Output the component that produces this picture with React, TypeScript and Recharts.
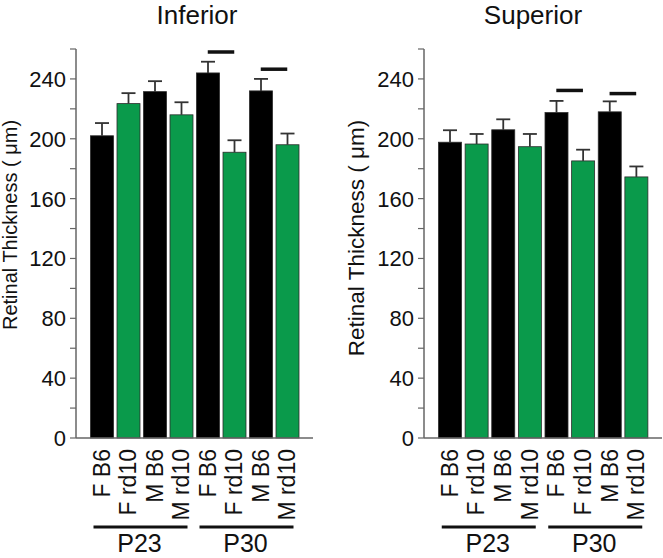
import { Bar, BarChart, ReferenceLine, XAxis, YAxis } from "recharts";

const CATEGORIES = ["F B6", "F rd10", "M B6", "M rd10", "F B6", "F rd10", "M B6", "M rd10"];
const GROUPS = ["P23", "P23", "P23", "P23", "P30", "P30", "P30", "P30"];

const INFERIOR_MEAN = [202, 223.5, 231.5, 216, 244, 191, 232, 196];
const INFERIOR_ERR = [8.5, 7, 7, 8.4, 7.5, 8, 8, 7.5];
const SUPERIOR_MEAN = [197.7, 196.5, 206, 194.7, 217.5, 185.2, 218, 174.5];
const SUPERIOR_ERR = [8, 6.7, 7, 8.5, 7.8, 7.5, 7, 7];

// significance bars: pair of bar indices and the height they sit at
const INFERIOR_SIG = [
  { from: 4, to: 5, y: 258 },
  { from: 6, to: 7, y: 246.5 },
];
const SUPERIOR_SIG = [
  { from: 4, to: 5, y: 232.3 },
  { from: 6, to: 7, y: 230.2 },
];

const Y_TICKS = [0, 20, 40, 60, 80, 100, 120, 140, 160, 180, 200, 220, 240, 260];
const Y_LABEL = "Retinal Thickness ( \u03bcm)";

const FONT = '"Liberation Sans", Arial, Helvetica, sans-serif';
const BLACK = "#000000";
const GREEN = "#0a9a4b";
const AXIS = "#666666";

type Row = { key: string; label: string; group: string; mean: number; err: number };

function buildRows(means: number[], errs: number[]): Row[] {
  return CATEGORIES.map((label, i) => ({
    key: `${GROUPS[i]} ${label}`,
    label,
    group: GROUPS[i],
    mean: means[i],
    err: errs[i],
  }));
}

function BarWithError(props: any) {
  const { x, y, width, height, payload } = props;
  const fill = payload.label.includes("rd10") ? GREEN : BLACK;
  const k = payload.mean ? height / payload.mean : 0;
  const top = y - payload.err * k;
  const cx = x + width / 2;
  return (
    <g>
      <rect x={x} y={y} width={width} height={height} fill={fill} stroke="#2b2b2b" strokeWidth={0.8} />
      <line x1={cx} x2={cx} y1={y} y2={top} stroke="#333" strokeWidth={1.8} />
      <line x1={cx - 7} x2={cx + 7} y1={top} y2={top} stroke="#333" strokeWidth={1.8} />
    </g>
  );
}

function YTick(props: any) {
  const { x, y, payload } = props;
  if (payload.value % 40 !== 0) return null;
  return (
    <text x={x} y={y} dy="0.36em" textAnchor="end" fontSize={22} fontFamily={FONT} fill="#111">
      {payload.value}
    </text>
  );
}

function CatTick(props: any) {
  const { x, y, payload } = props;
  const label = String(payload.value).slice(4);
  return (
    <text
      transform={`translate(${x},${y + 11}) rotate(-90)`}
      textAnchor="end"
      dominantBaseline="central"
      fontSize={23}
      fontFamily={FONT}
      fill="#111"
    >
      {label}
    </text>
  );
}

function GroupTick(props: any) {
  const { x, y, payload } = props;
  return (
    <g>
      <line x1={x - 48} x2={x + 46} y1={y + 4} y2={y + 4} stroke="#111" strokeWidth={3} />
      <text x={x - 2} y={y + 29} textAnchor="middle" fontSize={25} fontFamily={FONT} fill="#111">
        {payload.value}
      </text>
    </g>
  );
}

function Panel({
  rows,
  sig,
  width,
  yAxisWidth,
  marginRight,
}: {
  rows: Row[];
  sig: { from: number; to: number; y: number }[];
  width: number;
  yAxisWidth: number;
  marginRight: number;
}) {
  const pad = { left: 12.5, right: 12.5 };
  return (
    <BarChart width={width} height={558} data={rows} margin={{ top: 49, right: marginRight, left: 0, bottom: 0 }}>
      <YAxis
        type="number"
        domain={[0, 260]}
        ticks={Y_TICKS}
        interval={0}
        width={yAxisWidth}
        tickSize={6}
        tickMargin={4}
        tick={<YTick />}
        tickLine={{ stroke: AXIS, strokeWidth: 1.2 }}
        axisLine={{ stroke: AXIS, strokeWidth: 1.5 }}
      />
      <XAxis
        xAxisId="cat"
        dataKey="key"
        type="category"
        interval={0}
        height={85}
        padding={pad}
        tickSize={0}
        tickMargin={0}
        tickLine={false}
        tick={<CatTick />}
        axisLine={{ stroke: AXIS, strokeWidth: 1.5 }}
      />
      <XAxis
        xAxisId="grp"
        dataKey="group"
        type="category"
        allowDuplicatedCategory={false}
        interval={0}
        height={35}
        padding={pad}
        tickSize={0}
        tickMargin={0}
        tickLine={false}
        axisLine={false}
        tick={<GroupTick />}
      />
      <Bar xAxisId="cat" dataKey="mean" barSize={23} shape={<BarWithError />} isAnimationActive={false} />
      {sig.map((s) => (
        <ReferenceLine
          key={s.from}
          xAxisId="cat"
          segment={[
            { x: rows[s.from].key, y: s.y },
            { x: rows[s.to].key, y: s.y },
          ]}
          stroke="#111"
          strokeWidth={3.5}
        />
      ))}
    </BarChart>
  );
}

const titleStyle = (cx: number): React.CSSProperties => ({
  position: "absolute",
  left: cx - 100,
  top: 0,
  width: 200,
  textAlign: "center",
  fontSize: 26,
  lineHeight: "30px",
  fontFamily: FONT,
  color: "#111",
});

const yLabelStyle = (cx: number, cy: number, size: number): React.CSSProperties => ({
  position: "absolute",
  left: cx,
  top: cy,
  transform: "translate(-50%, -50%) rotate(-90deg)",
  whiteSpace: "nowrap",
  fontSize: size,
  fontFamily: FONT,
  color: "#111",
});

export default function App() {
  const inferior = buildRows(INFERIOR_MEAN, INFERIOR_ERR);
  const superior = buildRows(SUPERIOR_MEAN, SUPERIOR_ERR);
  return (
    <div style={{ position: "absolute", left: 0, top: 0, width: 663, height: 558, background: "#fff", overflow: "hidden" }}>
      <div style={{ position: "absolute", left: 0, top: 0 }}>
        <Panel rows={inferior} sig={INFERIOR_SIG} width={331} yAxisWidth={76} marginRight={18} />
      </div>
      <div style={{ position: "absolute", left: 331, top: 0 }}>
        <Panel rows={superior} sig={SUPERIOR_SIG} width={332} yAxisWidth={93} marginRight={1} />
      </div>
      <div style={titleStyle(197)}>Inferior</div>
      <div style={titleStyle(533)}>Superior</div>
      <div style={yLabelStyle(10, 225, 20)}>{Y_LABEL}</div>
      <div style={yLabelStyle(357, 238, 22.5)}>{Y_LABEL}</div>
    </div>
  );
}
